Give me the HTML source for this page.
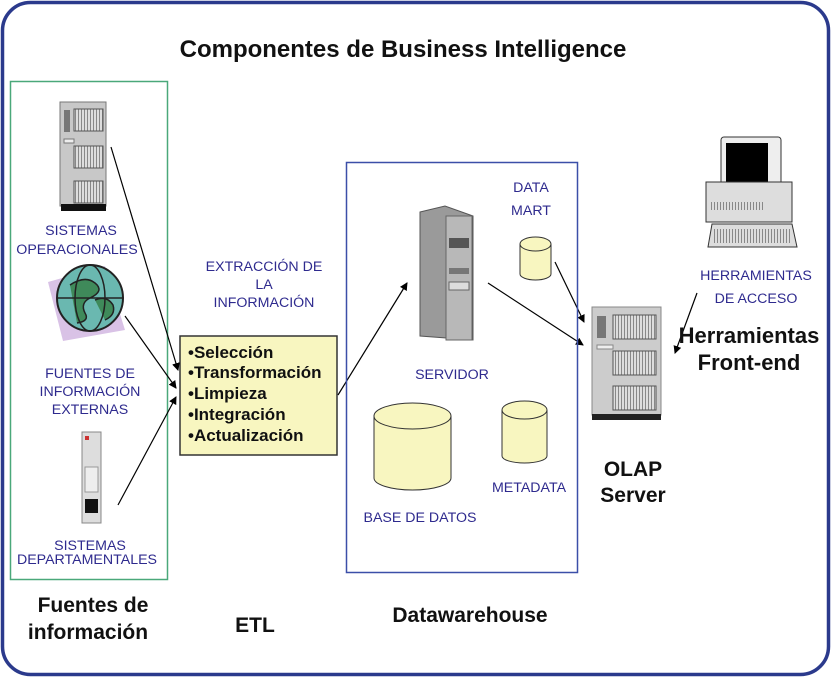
<!DOCTYPE html>
<html><head><meta charset="utf-8"><style>
body{margin:0;background:#fff}
svg{display:block}
.lb{font-family:"Liberation Sans",sans-serif;font-size:14.2px;fill:#2e2a8e;text-anchor:middle}
.bd{font-family:"Liberation Sans",sans-serif;font-weight:bold;fill:#111}
</style></head><body>
<svg width="831" height="677" viewBox="0 0 831 677">
<defs>
<marker id="a" markerWidth="8" markerHeight="8" refX="7" refY="4" orient="auto" markerUnits="userSpaceOnUse"><path d="M0,0 L8,4 L0,8 z" fill="#000"/></marker>
<pattern id="g" width="3" height="3" patternUnits="userSpaceOnUse"><rect width="3" height="3" fill="#ddd"/><rect width="1" height="3" fill="#888"/></pattern>
</defs>
<rect x="2.5" y="2.5" width="826" height="672" rx="28" fill="#fff" stroke="#2b3a8c" stroke-width="3.5"/>
<text x="403" y="57" class="bd" font-size="24" text-anchor="middle">Componentes de Business Intelligence</text>
<rect x="10.5" y="81.5" width="157" height="498" fill="none" stroke="#4aa87a" stroke-width="1.5"/>
<!-- server 1 -->
<rect x="60" y="102" width="46" height="104" fill="#c8c8c8" stroke="#777"/>
<rect x="61" y="204" width="45" height="7" fill="#111"/>
<rect x="74" y="109" width="29" height="22" fill="url(#g)" stroke="#555"/>
<rect x="74" y="146" width="29" height="22" fill="url(#g)" stroke="#555"/>
<rect x="74" y="181" width="29" height="22" fill="url(#g)" stroke="#555"/>
<rect x="64" y="110" width="6" height="22" fill="#777"/>
<rect x="64" y="139" width="10" height="4" fill="#eee" stroke="#777"/>
<text class="lb" x="81" y="235">SISTEMAS</text>
<text class="lb" x="77" y="254">OPERACIONALES</text>
<!-- globe -->
<polygon points="48,282 105,266 125,330 63,341" fill="#d9c2e6"/>
<circle cx="90" cy="298" r="33" fill="#6ab8b0" stroke="#222" stroke-width="2"/>
<path d="M70,285 q15,-10 25,-2 q10,8 -5,15 q-10,5 -5,15 q5,8 -8,10 M95,300 q12,-5 18,5 q3,10 -8,15" fill="#3f8a5a" stroke="#222" stroke-width="1.5"/>
<ellipse cx="90" cy="298" rx="15" ry="33" fill="none" stroke="#222" stroke-width="1.5"/>
<line x1="57" y1="298" x2="123" y2="298" stroke="#222" stroke-width="1.5"/>
<text class="lb" x="90" y="378">FUENTES DE</text>
<text class="lb" x="90" y="396">INFORMACIÓN</text>
<text class="lb" x="90" y="414">EXTERNAS</text>
<!-- small server -->
<rect x="82" y="432" width="19" height="91" fill="#ddd" stroke="#888"/>
<rect x="85" y="436" width="4" height="4" fill="#c33"/>
<rect x="85" y="467" width="13" height="25" fill="#eee" stroke="#999"/>
<rect x="85" y="499" width="13" height="14" fill="#111"/>
<text class="lb" x="90" y="550">SISTEMAS</text>
<text class="lb" x="87" y="564">DEPARTAMENTALES</text>
<!-- ETL -->
<text class="lb" x="264" y="271">EXTRACCIÓN DE</text>
<text class="lb" x="264" y="289">LA</text>
<text class="lb" x="264" y="307">INFORMACIÓN</text>
<rect x="180" y="336" width="157" height="119" fill="#f8f6c0" stroke="#333" stroke-width="1.5"/>
<g class="bd" font-size="17">
<text x="188" y="358">•Selección</text>
<text x="188" y="378">•Transformación</text>
<text x="188" y="399">•Limpieza</text>
<text x="188" y="420">•Integración</text>
<text x="188" y="441">•Actualización</text>
</g>
<g stroke="#000" stroke-width="1.2" marker-end="url(#a)">
<line x1="111" y1="147" x2="178" y2="370"/>
<line x1="125" y1="316" x2="176" y2="388"/>
<line x1="118" y1="505" x2="176" y2="397"/>
<line x1="338" y1="395" x2="407" y2="283"/>
<line x1="488" y1="283" x2="583" y2="345"/>
<line x1="555" y1="262" x2="584" y2="322"/>
<line x1="697" y1="293" x2="675" y2="353"/>
</g>
<!-- DW -->
<rect x="346.5" y="162.5" width="231" height="410" fill="none" stroke="#3b4fa8" stroke-width="1.5"/>
<polygon points="420,212 445,206 473,216 473,340 420,336" fill="#9a9a9a" stroke="#555"/>
<rect x="446" y="216" width="26" height="124" fill="#b8b8b8" stroke="#666"/>
<rect x="449" y="238" width="20" height="10" fill="#555"/>
<rect x="449" y="268" width="20" height="6" fill="#777"/>
<rect x="449" y="282" width="20" height="8" fill="#ddd" stroke="#666"/>
<text class="lb" x="531" y="192">DATA</text>
<text class="lb" x="531" y="215">MART</text>
<path d="M520,244 v30 a15.5,6 0 0 0 31,0 v-30" fill="#f8f6c0" stroke="#333"/>
<ellipse cx="535.5" cy="244" rx="15.5" ry="7" fill="#f8f6c0" stroke="#333"/>
<text class="lb" x="452" y="379">SERVIDOR</text>
<path d="M374,416 v62 a38.5,12 0 0 0 77,0 v-62" fill="#f8f6c0" stroke="#333"/>
<ellipse cx="412.5" cy="416" rx="38.5" ry="13" fill="#f8f6c0" stroke="#333"/>
<path d="M502,410 v46 a22.5,7 0 0 0 45,0 v-46" fill="#f8f6c0" stroke="#333"/>
<ellipse cx="524.5" cy="410" rx="22.5" ry="9" fill="#f8f6c0" stroke="#333"/>
<text class="lb" x="420" y="522">BASE DE DATOS</text>
<text class="lb" x="529" y="492">METADATA</text>
<!-- OLAP -->
<rect x="592" y="307" width="69" height="108" fill="#ccc" stroke="#888"/>
<rect x="592" y="414" width="69" height="6" fill="#222"/>
<rect x="613" y="315" width="43" height="24" fill="url(#g)" stroke="#555"/>
<rect x="613" y="351" width="43" height="24" fill="url(#g)" stroke="#555"/>
<rect x="613" y="386" width="43" height="24" fill="url(#g)" stroke="#555"/>
<rect x="597" y="316" width="9" height="22" fill="#777"/>
<rect x="597" y="345" width="16" height="4" fill="#eee" stroke="#888"/>
<text class="bd" font-size="21" x="633" y="476" text-anchor="middle">OLAP</text>
<text class="bd" font-size="21" x="633" y="502" text-anchor="middle">Server</text>
<!-- PC -->
<rect x="721" y="137" width="60" height="54" rx="3" fill="#eee" stroke="#333"/>
<rect x="726" y="143" width="42" height="41" fill="#000"/>
<rect x="706" y="182" width="86" height="40" fill="#ddd" stroke="#333"/>
<rect x="709" y="202" width="54" height="8" fill="url(#g)"/>
<polygon points="712,224 792,224 797,247 708,247" fill="#ddd" stroke="#333"/>
<rect x="714" y="229" width="78" height="14" fill="url(#g)"/>
<text class="lb" x="756" y="280">HERRAMIENTAS</text>
<text class="lb" x="756" y="303">DE ACCESO</text>
<text class="bd" font-size="22" x="749" y="343" text-anchor="middle">Herramientas</text>
<text class="bd" font-size="22" x="749" y="370" text-anchor="middle">Front-end</text>
<!-- footer -->
<text class="bd" font-size="21" x="93" y="612" text-anchor="middle">Fuentes de</text>
<text class="bd" font-size="21" x="88" y="639" text-anchor="middle">información</text>
<text class="bd" font-size="21" x="255" y="632" text-anchor="middle">ETL</text>
<text class="bd" font-size="21" x="470" y="622" text-anchor="middle">Datawarehouse</text>
</svg>
</body></html>
